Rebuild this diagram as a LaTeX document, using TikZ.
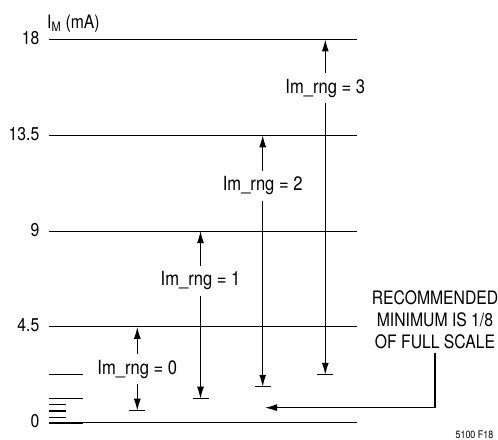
\documentclass[tikz,border=0pt]{standalone}
\usepackage{fontspec}
\setmainfont{TeX Gyre Heros}[FakeStretch=0.85]
\usetikzlibrary{arrows.meta, positioning}

\begin{document}
\begin{tikzpicture}[
  x=1pt, y=21.29pt,
  font=\fontsize{18.5}{22.2}\selectfont,
  level/.style={draw=black, line width=1.1pt},
  ticklabel/.style={anchor=east, inner sep=0pt, yshift=1.5pt},
  rnglabel/.style={inner xsep=2pt, inner ysep=5.5pt, font=\fontsize{19.5}{23}\selectfont},
  minbar/.style={draw=black, line width=1.1pt},
  arrow/.style={-{Latex[length=12pt, width=7pt]}, line width=1.1pt, draw=black}
]
\useasboundingbox (0,-0.8126) rectangle (498,19.854);

\draw[level] (49,0) -- (357,0);
\draw[level] (49,4.5) -- (357,4.5);
\draw[level] (49,9) -- (357,9);
\draw[level] (49,13.5) -- (357,13.5);
\draw[level] (49,18) -- (357,18);

\draw[level] (49,2.25) -- (83,2.25);
\draw[level] (49,1.125) -- (83,1.125);
\draw[level] (49,0.845) -- (66,0.845);
\draw[level] (49,0.55) -- (66,0.55);
\draw[level] (49,0.254) -- (66,0.254);
\draw[level, line width=1.8pt] (49,0) -- (83,0);

\node[ticklabel] (t0) at (39.5,0) {0};
\node[ticklabel] (t45) at (39.5,4.5) {4.5};
\node[ticklabel] (t9) at (39.5,9) {9};
\node[ticklabel] (t135) at (39.5,13.5) {13.5};
\node[ticklabel] (t18) at (39.5,18) {18};
\node[anchor=base west, inner sep=0pt, font=\fontsize{18.5}{22}\selectfont] (axis) at (47,18.52) {I\textsubscript{M} (mA)};

\node[rnglabel] (rng0) at (137.3,2.515) {Im\_rng = 0};
\node[rnglabel] (rng1) at (200.5,6.672) {Im\_rng = 1};
\node[rnglabel] (rng2) at (262.7,11.134) {Im\_rng = 2};
\node[rnglabel] (rng3) at (325.3,15.714) {Im\_rng = 3};

\coordinate (top0) at (137.3,4.5);
\coordinate (top1) at (200.5,9);
\coordinate (top2) at (262.7,13.5);
\coordinate (top3) at (325.3,18);
\coordinate (bot0) at (137.3,0.5625);
\coordinate (bot1) at (200.5,1.125);
\coordinate (bot2) at (262.7,1.6875);
\coordinate (bot3) at (325.3,2.25);

\draw[arrow] (rng0.north) -- (top0);
\draw[arrow] (rng0.south) -- (bot0);
\draw[arrow] (rng1.north) -- (top1);
\draw[arrow] (rng1.south) -- (bot1);
\draw[arrow] (rng2.north) -- (top2);
\draw[arrow] (rng2.south) -- (bot2);
\draw[arrow] (rng3.north) -- (top3);
\draw[arrow] (rng3.south) -- (bot3);

\draw[minbar] ([xshift=-8pt]bot0) -- ([xshift=8pt]bot0);
\draw[minbar] ([xshift=-8pt]bot1) -- ([xshift=8pt]bot1);
\draw[minbar] ([xshift=-8pt]bot2) -- ([xshift=8pt]bot2);
\draw[minbar] ([xshift=-8pt]bot3) -- ([xshift=8pt]bot3);

\node[anchor=south, align=center, inner sep=3.5pt] (rec) at (435,3.274) {RECOMMENDED\\MINIMUM IS 1/8\\OF FULL SCALE};
\coordinate (mintip) at (265,0.705);
\draw[arrow] (rec.south) |- (mintip);

\node[anchor=base east, inner sep=0pt, font=\fontsize{10.5}{12}\selectfont] (fig) at (493.5,-0.733) {5100 F18};
\end{tikzpicture}
\end{document}
